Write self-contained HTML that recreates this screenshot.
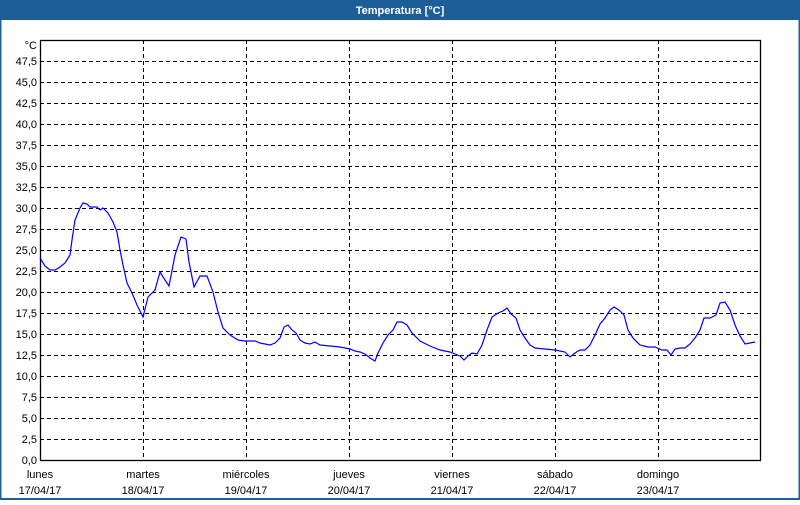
<!DOCTYPE html>
<html><head><meta charset="utf-8"><style>
body{margin:0;width:800px;height:500px;overflow:hidden;background:#fff;font-family:"Liberation Sans",sans-serif}
</style></head><body>
<svg width="800" height="500" xmlns="http://www.w3.org/2000/svg" font-family="Liberation Sans, sans-serif" font-size="11">
<rect x="0" y="0" width="800" height="500" fill="#fff"/>
<rect x="0" y="0" width="800" height="20" fill="#1c5e97"/>
<rect x="0.5" y="0" width="799" height="499" fill="none" stroke="#1c5e97" stroke-width="2"/>
<text x="400" y="14" text-anchor="middle" fill="#fff" font-weight="bold" font-size="11">Temperatura [°C]</text>
<g stroke="#000" stroke-dasharray="4,3" stroke-width="1">
<line x1="40" x2="760" y1="61.5" y2="61.5"/><line x1="40" x2="760" y1="82.5" y2="82.5"/><line x1="40" x2="760" y1="103.5" y2="103.5"/><line x1="40" x2="760" y1="124.5" y2="124.5"/><line x1="40" x2="760" y1="145.5" y2="145.5"/><line x1="40" x2="760" y1="166.5" y2="166.5"/><line x1="40" x2="760" y1="187.5" y2="187.5"/><line x1="40" x2="760" y1="208.5" y2="208.5"/><line x1="40" x2="760" y1="229.5" y2="229.5"/><line x1="40" x2="760" y1="250.5" y2="250.5"/><line x1="40" x2="760" y1="271.5" y2="271.5"/><line x1="40" x2="760" y1="292.5" y2="292.5"/><line x1="40" x2="760" y1="313.5" y2="313.5"/><line x1="40" x2="760" y1="334.5" y2="334.5"/><line x1="40" x2="760" y1="355.5" y2="355.5"/><line x1="40" x2="760" y1="376.5" y2="376.5"/><line x1="40" x2="760" y1="397.5" y2="397.5"/><line x1="40" x2="760" y1="418.5" y2="418.5"/><line x1="40" x2="760" y1="439.5" y2="439.5"/>
<line x1="143.5" x2="143.5" y1="40" y2="460"/><line x1="246.5" x2="246.5" y1="40" y2="460"/><line x1="349.5" x2="349.5" y1="40" y2="460"/><line x1="452.5" x2="452.5" y1="40" y2="460"/><line x1="555.5" x2="555.5" y1="40" y2="460"/><line x1="658.5" x2="658.5" y1="40" y2="460"/>
</g>
<rect x="40.5" y="40.5" width="720" height="420" fill="none" stroke="#000" stroke-width="1.3"/>
<g text-anchor="end" fill="#000">
<text x="37" y="49">°C</text>
<text x="37" y="65">47,5</text><text x="37" y="86">45,0</text><text x="37" y="107">42,5</text><text x="37" y="128">40,0</text><text x="37" y="149">37,5</text><text x="37" y="170">35,0</text><text x="37" y="191">32,5</text><text x="37" y="212">30,0</text><text x="37" y="233">27,5</text><text x="37" y="254">25,0</text><text x="37" y="275">22,5</text><text x="37" y="296">20,0</text><text x="37" y="317">17,5</text><text x="37" y="338">15,0</text><text x="37" y="359">12,5</text><text x="37" y="380">10,0</text><text x="37" y="401">7,5</text><text x="37" y="422">5,0</text><text x="37" y="443">2,5</text><text x="37" y="464">0,0</text>
</g>
<g text-anchor="middle" fill="#000">
<text x="40" y="478">lunes</text><text x="40" y="494">17/04/17</text>
<text x="143" y="478">martes</text><text x="143" y="494">18/04/17</text>
<text x="246" y="478">miércoles</text><text x="246" y="494">19/04/17</text>
<text x="349" y="478">jueves</text><text x="349" y="494">20/04/17</text>
<text x="452" y="478">viernes</text><text x="452" y="494">21/04/17</text>
<text x="555" y="478">sábado</text><text x="555" y="494">22/04/17</text>
<text x="658" y="478">domingo</text><text x="658" y="494">23/04/17</text>
</g>
<polyline fill="none" stroke="#0000ff" stroke-width="1.2" points="40,258 45,266 50,270 55,270 60,267 65,263 70,255 72,240 75,220 80,208 83,203 87,204 90,207 97,207 100,210 103,208 108,213 113,222 117,232 120,250 123,265 127,283 132,293 137,305 143,317 148,297 155,290 160,272 165,280 169,286 175,255 181,237 186,239 189,262 194,287 200,276 207,276 213,292 218,312 223,328 230,335 238,340 245,341 250,341 255,341 260,343 265,344 270,345 275,343 280,338 284,327 288,325 292,330 296,333 300,340 305,343 310,344 315,342 320,345 330,346 340,347 345,348 350,349 355,351 360,352 365,354 370,358 375,361 378,353 383,343 388,335 393,330 397,322 402,322 407,325 412,333 420,341 430,346 440,350 450,352 455,354 460,356 464,360 468,356 472,353 477,354 482,345 487,330 492,317 498,313 503,311 507,308 511,314 516,318 520,330 525,338 530,345 535,348 545,349 555,350 565,352 570,357 575,353 580,350 585,350 590,345 595,335 600,324 605,318 610,310 614,307 619,310 624,315 628,330 633,338 640,345 648,347 655,347 662,350 667,350 671,355 675,349 680,348 685,348 690,344 695,338 700,330 704,318 710,318 716,315 720,303 725,302 730,310 735,325 740,336 745,344 750,343 755,342"/>
</svg>
</body></html>
